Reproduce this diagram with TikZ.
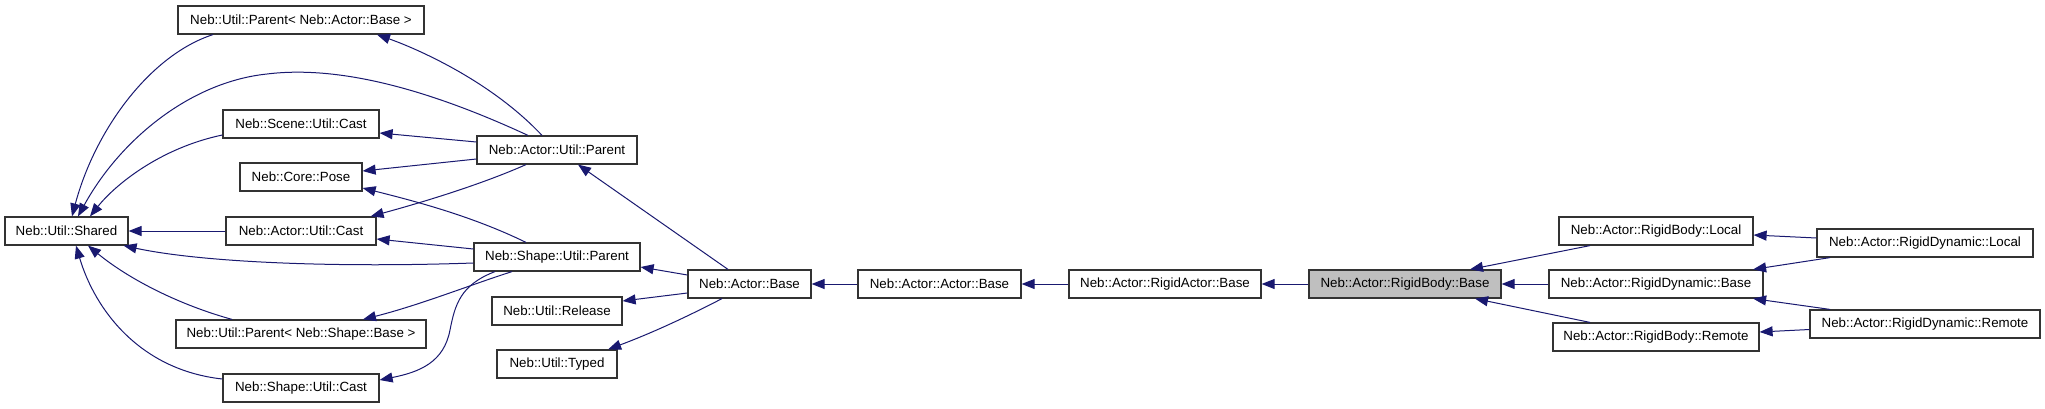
\documentclass[tikz,border=0pt]{standalone}
\usepackage{fontspec}
\setmainfont{Liberation Sans}
\usetikzlibrary{arrows.meta}
\definecolor{edgeblue}{HTML}{191970}
\definecolor{boxgray}{HTML}{BFBFBF}
\begin{document}
\begin{tikzpicture}[x=1pt,y=-1pt,
  font=\fontsize{13.33}{16}\selectfont,
  cls/.style={draw=black!80, line width=1.2pt, fill=white, minimum height=28pt, inner sep=0pt, anchor=center},
  cur/.style={cls, fill=boxgray},
  edge/.style={draw=edgeblue, line width=1pt, -{Triangle[length=13pt,width=10pt]}}]
\useasboundingbox[fill=white] (0,0) rectangle (2045,408);
% nodes
\node[cls, minimum width=246pt] (UPAB) at (301,20) {Neb::Util::Parent< Neb::Actor::Base >};
\node[cls, minimum width=156pt] (SceneCast) at (301,124) {Neb::Scene::Util::Cast};
\node[cls, minimum width=122pt] (Pose) at (301,177) {Neb::Core::Pose};
\node[cls, minimum width=123pt] (Shared) at (66.5,231) {Neb::Util::Shared};
\node[cls, minimum width=150pt] (ActorCast) at (301,231) {Neb::Actor::Util::Cast};
\node[cls, minimum width=160pt] (AUP) at (557,150) {Neb::Actor::Util::Parent};
\node[cls, minimum width=166pt] (SUP) at (557,257) {Neb::Shape::Util::Parent};
\node[cls, minimum width=130pt] (Release) at (557,311) {Neb::Util::Release};
\node[cls, minimum width=120pt] (Typed) at (557,364) {Neb::Util::Typed};
\node[cls, minimum width=250pt] (UPSB) at (301,334) {Neb::Util::Parent< Neb::Shape::Base >};
\node[cls, minimum width=156pt] (ShapeCast) at (301,388) {Neb::Shape::Util::Cast};
\node[cls, minimum width=123pt] (ABase) at (749.5,284) {Neb::Actor::Base};
\node[cls, minimum width=163pt] (AABase) at (939.5,284) {Neb::Actor::Actor::Base};
\node[cls, minimum width=192pt] (RABase) at (1165,284) {Neb::Actor::RigidActor::Base};
\node[cur, minimum width=192pt] (RBBase) at (1405,284) {Neb::Actor::RigidBody::Base};
\node[cls, minimum width=194pt] (RBLocal) at (1656,231) {Neb::Actor::RigidBody::Local};
\node[cls, minimum width=214pt] (RDBase) at (1656,284) {Neb::Actor::RigidDynamic::Base};
\node[cls, minimum width=206pt] (RBRemote) at (1656,337) {Neb::Actor::RigidBody::Remote};
\node[cls, minimum width=216pt] (RDLocal) at (1925,243) {Neb::Actor::RigidDynamic::Local};
\node[cls, minimum width=230pt] (RDRemote) at (1925,324) {Neb::Actor::RigidDynamic::Remote};
% edges
\draw[edge] ([xshift=-15pt]AUP.north) .. controls (490,80) and (415,48) .. ([xshift=76pt]UPAB.south);
\draw[edge] ([xshift=-88pt]UPAB.south) .. controls (150,55) and (95,130) .. ([xshift=5.5pt]Shared.north);
\draw[edge] ([xshift=-29pt]AUP.north) .. controls (430,90) and (340,65) .. (267,74) .. controls (190,82) and (120,140) .. ([xshift=11.5pt]Shared.north);
\draw[edge] ([yshift=-11pt]SceneCast.west) .. controls (160,148) and (115,185) .. ([xshift=23.5pt]Shared.north);
\draw[edge] ([yshift=8pt]AUP.west) -- ([yshift=-9pt]SceneCast.east);
\draw[edge] ([yshift=-9pt]AUP.west) -- ([yshift=6pt]Pose.east);
\draw[edge] ([xshift=-31pt]AUP.south) .. controls (480,185) and (420,203) .. ([xshift=-6pt]ActorCast.north east);
\draw[edge] (ActorCast.west) -- (Shared.east);
\draw[edge] ([xshift=-31pt]SUP.north) .. controls (470,215) and (410,200) .. ([yshift=-11pt]Pose.east);
\draw[edge] ([yshift=8pt]SUP.west) -- ([yshift=-8pt]ActorCast.east);
\draw[edge] ([yshift=-6pt]SUP.west) .. controls (330,268) and (200,262) .. ([xshift=-5pt]Shared.south east);
\draw[edge] ([xshift=-45pt]SUP.south) .. controls (470,285) and (420,305) .. ([xshift=62pt]UPSB.north);
\draw[edge] ([xshift=-62pt]SUP.south) .. controls (460,285) and (455,305) .. (450,330) .. controls (444,362) and (420,372) .. ([yshift=8pt]ShapeCast.east);
\draw[edge] ([xshift=-69pt]UPSB.north) .. controls (180,305) and (130,280) .. ([xshift=21.5pt]Shared.south);
\draw[edge] ([yshift=9pt]ShapeCast.west) .. controls (140,370) and (95,310) .. ([xshift=9.5pt]Shared.south);
\draw[edge] ([xshift=-21.5pt]ABase.north) -- ([xshift=21pt]AUP.south);
\draw[edge] ([yshift=9pt]ABase.west) -- ([yshift=-10pt]SUP.east);
\draw[edge] ([yshift=-9pt]ABase.west) -- ([yshift=10pt]Release.east);
\draw[edge] ([xshift=-27.5pt]ABase.south) .. controls (700,310) and (660,330) .. ([xshift=-9.5pt]Typed.north east);
\draw[edge] (AABase.west) -- (ABase.east);
\draw[edge] (RABase.west) -- (AABase.east);
\draw[edge] (RBBase.west) -- (RABase.east);
\draw[edge] ([xshift=-66pt]RBLocal.south) -- ([xshift=65pt]RBBase.north);
\draw[edge] (RDBase.west) -- (RBBase.east);
\draw[edge] ([xshift=-66pt]RBRemote.north) -- ([xshift=70pt]RBBase.south);
\draw[edge] ([yshift=5pt]RDLocal.west) -- ([yshift=-4pt]RBLocal.east);
\draw[edge] ([xshift=-95pt]RDLocal.south) -- ([xshift=-10.5pt]RDBase.north east);
\draw[edge] ([xshift=-95pt]RDRemote.north) -- ([xshift=-10.5pt]RDBase.south east);
\draw[edge] ([yshift=-5.5pt]RDRemote.west) -- ([yshift=5pt]RBRemote.east);
\end{tikzpicture}
\end{document}
